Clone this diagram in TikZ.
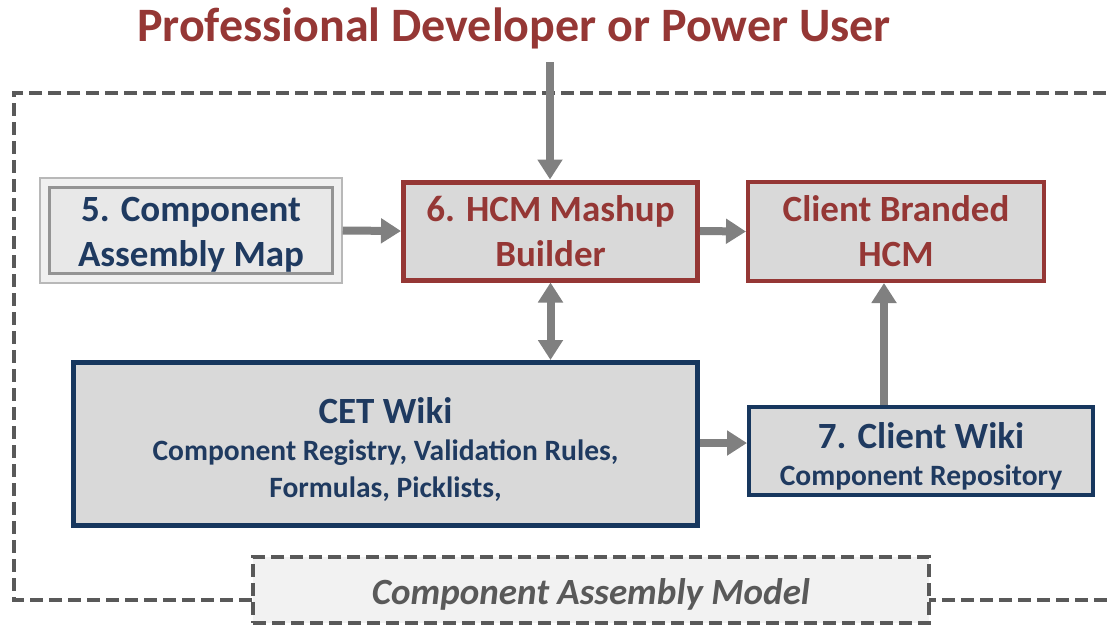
\documentclass[tikz,border=0pt]{standalone}
\usepackage{fontspec}
\setmainfont{Carlito}
\usetikzlibrary{arrows.meta}
\definecolor{hred}{HTML}{953735}
\definecolor{navy}{HTML}{17375E}
\definecolor{navytext}{HTML}{1F3A60}
\definecolor{boxfill}{HTML}{D9D9D9}
\definecolor{arrgray}{HTML}{808080}
\definecolor{dashgray}{HTML}{595959}
\definecolor{lblfill}{HTML}{F2F2F2}
\newcommand{\bigtxt}{\fontsize{37}{45}\selectfont}
\newcommand{\smalltxt}{\fontsize{29.5}{37}\selectfont}
\tikzset{
  redbox/.style={draw=hred, fill=boxfill, line width=5pt, text=hred, align=center, inner sep=0pt,
    font=\bfseries\bigtxt},
  navybox/.style={draw=navy, fill=boxfill, text=navytext, align=center, inner sep=0pt, font=\bfseries\smalltxt},
  arr/.style={draw=arrgray, line width=8pt, -{Triangle[length=20pt,width=24pt]}},
  darr/.style={draw=arrgray, line width=8pt, {Triangle[length=20pt,width=24pt]}-{Triangle[length=20pt,width=24pt]}},
  dashline/.style={draw=dashgray, line width=4pt, dash pattern=on 13pt off 6pt},
}
\begin{document}
\begin{tikzpicture}[x=1pt,y=-1pt]
\useasboundingbox (0,0) rectangle (1111,625);
% outer dashed frame
\draw[dashline] (1125,93) -- (14,93) -- (14,600) -- (1125,600);
% title
\node[text=hred, font=\bfseries\fontsize{48}{56}\selectfont, inner sep=0pt] (title) at (514,28) {Professional Developer or Power User};
\coordinate (src) at (550,62);
% component assembly map (bevelled)
\node[draw=black!28, fill=black!6, line width=1.5pt, minimum width=302pt, minimum height=105pt, inner sep=0pt] (cam) at (191,230.5) {};
\draw[draw=black!42, fill=black!9, line width=3pt] ([xshift=10pt,yshift=-10pt]cam.north west) rectangle ([xshift=-10pt,yshift=10pt]cam.south east);
\node[text=navytext, align=center, inner sep=0pt, font=\bfseries\bigtxt] (camtext) at (191,235) {5. Component\\Assembly Map};
% HCM mashup builder
\node[redbox, minimum width=294pt, minimum height=98pt] (hcm) at (550.5,231) {6. HCM Mashup\\Builder};
% client branded HCM
\node[redbox, line width=4pt, minimum width=296pt, minimum height=99pt] (cb) at (896,231.5) {Client Branded\\HCM};
% CET wiki
\node[navybox, line width=5pt, minimum width=624pt, minimum height=163pt] (cet) at (385.5,444)
 {\bigtxt\rule{0pt}{36pt}CET Wiki\\\smalltxt Component Registry, Validation Rules,\\\smalltxt Formulas, Picklists,};
% client wiki
\node[navybox, line width=4pt, minimum width=344pt, minimum height=88pt] (cw) at (921,451)
 {\bigtxt\rule{0pt}{36pt}7. Client Wiki\\\smalltxt Component Repository};
% label
\node[dashline, fill=lblfill, minimum width=676pt, minimum height=66pt, inner sep=0pt,
  text=dashgray, font=\bfseries\itshape\bigtxt] (camlabel) at (591,590) {\rule{0pt}{34pt}Component Assembly Model};
% arrows
\draw[arr] (src) -- (hcm.north -| src);
\draw[arr] (cam.east) -- (hcm.west);
\draw[arr] (hcm.east) -- (cb.west);
\draw[darr] (hcm.south) -- (hcm.south |- cet.north);
\draw[arr] (cet.east |- 0,443) -- (cw.west |- 0,443);
\draw[arr] (cw.north -| 884,0) -- (cb.south -| 884,0);
\end{tikzpicture}
\end{document}
